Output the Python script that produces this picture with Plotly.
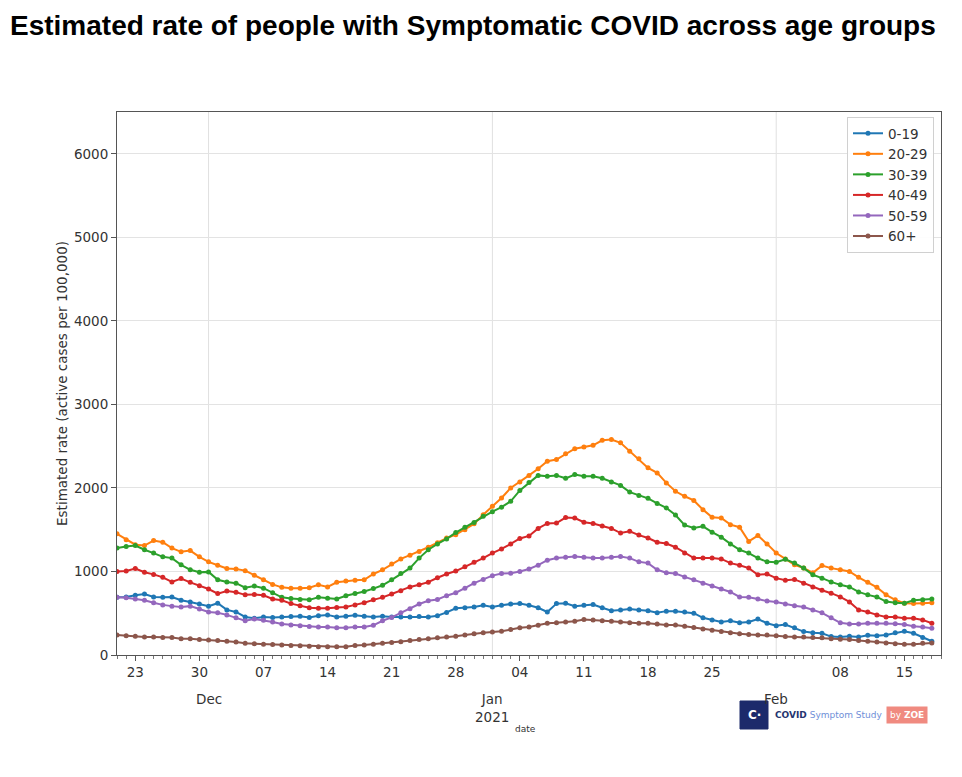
import pandas as pd
import plotly.graph_objects as go

# ---------------- data ----------------
dates = pd.date_range("2020-11-21", periods=90, freq="D")

age_groups = ["0-19", "20-29", "30-39", "40-49", "50-59", "60+"]

rate_0_19 = [690, 695, 715, 730, 695, 690, 695, 655, 635, 610,
             585, 620, 540, 515, 455, 440, 455, 450, 455, 460,
             465, 450, 470, 480, 455, 465, 475, 465, 455, 465,
             455, 455, 455, 460, 455, 470, 510, 560, 565, 575,
             595, 575, 595, 610, 615, 595, 565, 515, 615, 620,
             585, 595, 605, 565, 530, 540, 550, 540, 530, 505,
             525, 525, 515, 500, 445, 420, 395, 410, 385, 395,
             430, 380, 350, 365, 325, 280, 265, 260, 220, 215,
             225, 215, 235, 230, 240, 265, 285, 260, 210, 165]

rate_20_29 = [1450, 1380, 1320, 1310, 1370, 1350, 1280, 1235, 1250, 1175,
              1115, 1075, 1035, 1030, 1010, 955, 900, 845, 810, 800,
              800, 805, 840, 815, 870, 885, 895, 900, 970, 1020,
              1090, 1150, 1195, 1240, 1290, 1345, 1400, 1440, 1500, 1570,
              1680, 1780, 1880, 2000, 2070, 2150, 2230, 2320, 2340, 2410,
              2470, 2490, 2510, 2570, 2580, 2540, 2440, 2350, 2240, 2180,
              2060, 1960, 1900, 1850, 1740, 1650, 1640, 1560, 1530, 1360,
              1430, 1330, 1220, 1150, 1080, 1040, 985, 1070, 1040, 1020,
              1000, 930, 870, 810, 720, 660, 620, 615, 620, 625]

rate_30_39 = [1280, 1300, 1310, 1260, 1220, 1175, 1160, 1080, 1020, 990,
              995, 900, 875, 860, 805, 825, 800, 745, 690, 675,
              665, 660, 690, 680, 670, 710, 735, 760, 795, 835,
              900, 975, 1040, 1160, 1260, 1330, 1390, 1465, 1530, 1585,
              1660, 1715, 1770, 1840, 1970, 2065, 2150, 2140, 2150, 2115,
              2160, 2140, 2140, 2115, 2070, 2030, 1950, 1910, 1875, 1815,
              1760, 1675, 1555, 1520, 1540, 1470, 1410, 1330, 1260, 1220,
              1160, 1115, 1110, 1145, 1100, 1040, 960, 920, 875, 840,
              815, 755, 720, 695, 640, 625, 620, 655, 660, 670]

rate_40_49 = [1000, 1005, 1035, 990, 965, 930, 875, 915, 870, 830,
              790, 735, 765, 750, 720, 725, 715, 670, 655, 615,
              590, 565, 560, 560, 570, 575, 600, 625, 660, 690,
              730, 770, 815, 840, 872, 925, 970, 1005, 1055, 1110,
              1160, 1220, 1270, 1330, 1395, 1425, 1515, 1575, 1580, 1645,
              1640, 1590, 1575, 1545, 1515, 1460, 1480, 1435, 1400, 1350,
              1335, 1290, 1220, 1160, 1160, 1160, 1150, 1100, 1075, 1040,
              960, 970, 920, 895, 905, 860, 815, 775, 740, 695,
              635, 540, 515, 480, 455, 455, 440, 440, 420, 380]

rate_50_59 = [690, 685, 670, 655, 625, 600, 585, 575, 585, 550,
              515, 505, 480, 445, 410, 430, 415, 395, 370, 360,
              350, 340, 335, 335, 325, 325, 335, 335, 355, 410,
              450, 505, 555, 610, 650, 665, 710, 745, 800, 860,
              905, 950, 975, 980, 1000, 1030, 1075, 1135, 1160, 1170,
              1180, 1170, 1160, 1160, 1170, 1180, 1160, 1115, 1100, 1020,
              985, 975, 935, 900, 860, 825, 790, 755, 695, 690,
              670, 645, 635, 610, 590, 575, 540, 505, 445, 385,
              370, 370, 380, 380, 380, 375, 365, 345, 335, 320]

rate_60_plus = [240, 230, 225, 215, 215, 210, 210, 195, 195, 185,
                180, 175, 165, 155, 140, 135, 130, 125, 120, 115,
                110, 105, 100, 98, 98, 100, 115, 120, 130, 140,
                150, 160, 175, 185, 195, 205, 215, 225, 240, 255,
                265, 275, 285, 305, 325, 335, 355, 380, 385, 395,
                405, 425, 420, 410, 405, 395, 385, 380, 380, 370,
                360, 360, 345, 330, 310, 295, 280, 265, 255, 245,
                240, 240, 230, 220, 215, 215, 210, 205, 195, 190,
                185, 175, 165, 155, 145, 135, 130, 130, 140, 145]

series = [rate_0_19, rate_20_29, rate_30_39, rate_40_49, rate_50_59, rate_60_plus]
colors = ["#1f77b4", "#ff7f0e", "#2ca02c", "#d62728", "#9467bd", "#8c564b"]

# x-axis tick labels (Mondays) and month labels
tick_dates = ["2020-11-23", "2020-11-30", "2020-12-07", "2020-12-14", "2020-12-21",
              "2020-12-28", "2021-01-04", "2021-01-11", "2021-01-18", "2021-01-25",
              "2021-02-08", "2021-02-15"]
tick_labels = ["23", "30", "07", "14", "21", "28", "04", "11", "18", "25", "08", "15"]
month_dates = ["2020-12-01", "2021-01-01", "2021-02-01"]
month_labels = ["Dec", "Jan<br>2021", "Feb"]

y_ticks = [0, 1000, 2000, 3000, 4000, 5000, 6000]

title_text = "Estimated rate of people with Symptomatic COVID across age groups"
y_title = "Estimated rate (active cases per 100,000)"

# ---------------- figure ----------------
fig = go.Figure()
for name, vals, col in zip(age_groups, series, colors):
    fig.add_trace(go.Scatter(
        x=dates, y=vals, name=name, mode="lines+markers",
        line=dict(color=col, width=2),
        marker=dict(color=col, size=5),
    ))

# page body has an 8px margin; lay out in reference-page pixels minus 8
OFF = 8
W, H = 946, 761
L = 117 - OFF
T = 112 - OFF
plot_right = 941 - OFF
plot_bottom = 655 - OFF
R = W - plot_right
B = H - plot_bottom
ph = plot_bottom - T
pw = plot_right - L


def px_x(v):
    return (v - OFF - L) / pw


def px_y(v):
    return (plot_bottom - (v - OFF)) / ph


tick_font = dict(family="DejaVu Sans", size=13.5, color="#333333")

fig.update_layout(
    width=W, height=H,
    margin=dict(l=L, r=R, t=T, b=B),
    paper_bgcolor="white", plot_bgcolor="white",
    title=dict(text="<b>" + title_text + "</b>", x=(10 - OFF) / W, xanchor="left",
               y=1 - (25 - OFF) / H, yanchor="middle",
               font=dict(family="Liberation Sans, Arial", size=28, color="#000000")),
    showlegend=True,
    legend=dict(x=px_x(934), xanchor="right", y=px_y(117), yanchor="top",
                bgcolor="rgba(255,255,255,0.9)", bordercolor="#d0d0d0", borderwidth=1,
                font=dict(family="DejaVu Sans", size=13.5, color="#333333"),
                tracegroupgap=0, itemwidth=30),
    xaxis=dict(
        range=["2020-11-21", "2021-02-19"],
        tickmode="array", tickvals=tick_dates, ticktext=tick_labels,
        ticks="outside", ticklen=5, tickcolor="#555555",
        showgrid=False, zeroline=False,
        showline=True, linecolor="#555555", linewidth=1, mirror=True,
        tickfont=tick_font,
        minor=dict(dtick=86400000, tick0="2020-11-21", ticks="outside",
                   ticklen=3, tickcolor="#777777", showgrid=False),
    ),
    yaxis=dict(
        range=[0, 6500], tickmode="array", tickvals=y_ticks,
        ticks="outside", ticklen=5, tickcolor="#555555",
        showgrid=True, gridcolor="#e3e3e3", gridwidth=1, zeroline=False,
        showline=True, linecolor="#555555", linewidth=1, mirror=True,
        tickfont=tick_font,
        title=dict(text=y_title, standoff=3,
                   font=dict(family="DejaVu Sans", size=13.5, color="#333333")),
    ),
)

# month gridlines
for md in month_dates:
    fig.add_shape(type="line", xref="x", yref="paper", x0=md, x1=md, y0=0, y1=1,
                  line=dict(color="#e0e0e0", width=1), layer="below")

# month labels
for md, ml in zip(month_dates, month_labels):
    fig.add_annotation(x=md, xref="x", y=px_y(689), yref="paper",
                       text=ml, showarrow=False, xanchor="center", yanchor="top",
                       font=tick_font)

# "date" axis label
fig.add_annotation(x=px_x(525), xref="paper", y=px_y(729), yref="paper",
                   text="date", showarrow=False, xanchor="center", yanchor="middle",
                   font=dict(family="DejaVu Sans", size=9, color="#333333"))

# logo
fig.add_shape(type="rect", xref="paper", yref="paper",
              x0=px_x(740), x1=px_x(768), y0=px_y(729), y1=px_y(701),
              fillcolor="#1c2a6b", line=dict(color="#1c2a6b", width=1))
fig.add_annotation(x=px_x(754), xref="paper", y=px_y(715), yref="paper",
                   text="<b>C·</b>", showarrow=False, xanchor="center", yanchor="middle",
                   font=dict(family="DejaVu Sans", size=12, color="#ffffff"))
fig.add_annotation(x=px_x(773), xref="paper", y=px_y(715), yref="paper",
                   text="<b>COVID</b> <span style='color:#6f8fd8'>Symptom Study</span>",
                   showarrow=False, xanchor="left", yanchor="middle",
                   font=dict(family="DejaVu Sans", size=9, color="#24346f"))
fig.add_annotation(x=px_x(907), xref="paper", y=px_y(715), yref="paper",
                   text="by <b>ZOE</b>", showarrow=False, xanchor="center", yanchor="middle",
                   bgcolor="#f08a80", borderpad=3,
                   font=dict(family="DejaVu Sans", size=9, color="#ffffff"))

fig.write_html("out.html")
